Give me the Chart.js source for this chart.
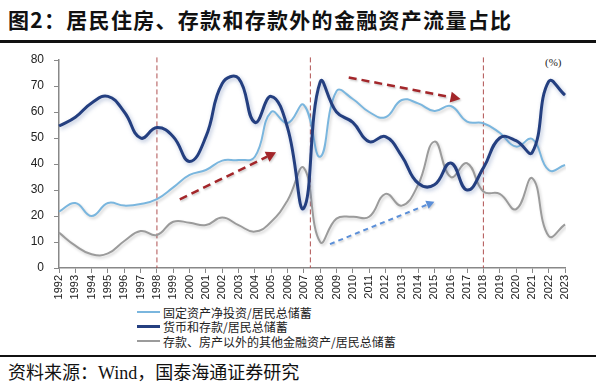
<!DOCTYPE html>
<html>
<head>
<meta charset="utf-8">
<script src="https://cdn.jsdelivr.net/npm/chart.js@4/dist/chart.umd.min.js"></script>
<style>
  html, body { margin: 0; padding: 0; background: #fff; }
  #wrap { position: relative; width: 596px; height: 388px; overflow: hidden; font-family: "Noto Sans CJK SC", sans-serif; }
  #title { position: absolute; left: 8px; top: 4px; font-size: 21px; font-weight: bold; color: #111; letter-spacing: 1.3px; white-space: nowrap; }
  .rule { position: absolute; left: 0; width: 596px; background: #111; }
  #legend { position: absolute; left: 137px; top: 305px; font-size: 12px; color: #222; }
  #legend div { display: flex; align-items: center; height: 14.5px; white-space: nowrap; }
  #legend span.sw { display: inline-block; width: 23px; margin-right: 3px; }
  #source { position: absolute; left: 8px; top: 358px; font-size: 18px; color: #111; font-family: "Liberation Serif", "Noto Sans CJK SC", serif; white-space: nowrap; }
  #unit { position: absolute; left: 545px; top: 56px; font-size: 11px; font-family: "Liberation Serif", serif; color: #222; }
  canvas { position: absolute; left: 0; top: 0; }
</style>
</head>
<body>
<div id="wrap">
  <div id="title">图2：居民住房、存款和存款外的金融资产流量占比</div>
  <div class="rule" style="top:40px;height:3px;"></div>
  <div id="unit">(%)</div>
  <div id="legend"></div>
  <div class="rule" style="top:355px;height:2px;"></div>
  <div id="source">资料来源：Wind，国泰海通证券研究</div>
  <canvas id="chart" width="596" height="388"></canvas>
</div>
<script>
// data
const years = [];
for (let y = 1992; y <= 2023; y++) years.push(String(y));

const fixedInvest = [21.7, 25, 20, 25, 24, 24.6, 26.5, 31, 35.8, 37.7, 41.3, 41.5, 42.8, 60, 55.7, 62.7,
  42.8, 68, 65, 60, 58, 64.6, 63.3, 60.4, 62.3, 56.3, 55.7, 52, 46.7, 49.6, 37.7, 39.6];
const deposits = [54.6, 58, 63.5, 66, 60, 50, 54, 50.5, 41, 50.5, 71, 73, 56, 66, 54, 23,
  71.5, 60, 56, 48.6, 50.5, 43, 32.6, 32, 40.4, 30, 38.5, 50, 49, 44.5, 71.7, 66.5];
const otherFin = [13.6, 8.6, 5.3, 5.6, 10.4, 14.2, 12.7, 17.8, 17.4, 16.5, 19.4, 16.5, 14, 17.8, 26, 38.5,
  10, 19, 19.7, 19.7, 28.5, 24, 32, 48.6, 35, 40.3, 29.4, 28.5, 22.6, 34.5, 12.3, 16.8];

const seriesNames = ['固定资产净投资/居民总储蓄', '货币和存款/居民总储蓄', '存款、房产以外的其他金融资产/居民总储蓄'];
const seriesColors = ['#7ab6de', '#243f80', '#9b9b9b'];

// annotations in data units (year, %)
const splitYears = [1998, 2007.4, 2018];
const arrows = [
  { from: [1999.4, 26.4], to: [2005.3, 44.5], color: '#a3262a', width: 2.5, dash: [8, 5] },
  { from: [2009.75, 73.3], to: [2016.6, 65], color: '#a3262a', width: 2.5, dash: [8, 5] },
  { from: [2008.6, 9.2], to: [2015, 25.5], color: '#5b8fd8', width: 2, dash: [5, 4] }
];

// legend
const legendEl = document.getElementById('legend');
seriesNames.forEach((n, i) => {
  const row = document.createElement('div');
  row.innerHTML = '<span class="sw" style="height:' + (i === 1 ? 3 : 2) + 'px;background:' + seriesColors[i] + '"></span>' + n;
  legendEl.appendChild(row);
});

const yearIdx = yr => yr - Number(years[0]);

const shadowPlugin = {
  id: 'shadow',
  beforeDatasetDraw(chart, args) {
    const ctx = chart.ctx;
    ctx.save();
    const dark = args.index === 1;
    ctx.shadowColor = dark ? 'rgba(70,100,160,0.4)' : 'rgba(0,0,0,0.18)';
    ctx.shadowBlur = dark ? 4 : 3;
    ctx.shadowOffsetX = 1.5;
    ctx.shadowOffsetY = 2;
  },
  afterDatasetDraw(chart) {
    chart.ctx.restore();
  }
};

const marksPlugin = {
  id: 'marks',
  beforeDatasetsDraw(chart) {
    const { ctx, scales: { x, y } } = chart;
    ctx.save();
    ctx.strokeStyle = '#b05050';
    ctx.lineWidth = 1;
    ctx.setLineDash([5, 3]);
    splitYears.forEach(yr => {
      const px = x.getPixelForValue(yearIdx(yr));
      ctx.beginPath();
      ctx.moveTo(px, y.getPixelForValue(81));
      ctx.lineTo(px, y.getPixelForValue(0));
      ctx.stroke();
    });
    ctx.restore();
  },
  afterDatasetsDraw(chart) {
    const { ctx, scales: { x, y } } = chart;
    arrows.forEach(a => {
      const x0 = x.getPixelForValue(yearIdx(a.from[0])), y0 = y.getPixelForValue(a.from[1]);
      const x1 = x.getPixelForValue(yearIdx(a.to[0])), y1 = y.getPixelForValue(a.to[1]);
      const ang = Math.atan2(y1 - y0, x1 - x0);
      const head = a.width * 4;
      ctx.save();
      ctx.shadowColor = 'rgba(0,0,0,0.2)';
      ctx.shadowBlur = 2;
      ctx.shadowOffsetX = 1;
      ctx.shadowOffsetY = 1.5;
      ctx.strokeStyle = a.color;
      ctx.fillStyle = a.color;
      ctx.lineWidth = a.width;
      ctx.setLineDash(a.dash);
      ctx.beginPath();
      ctx.moveTo(x0, y0);
      ctx.lineTo(x1 - Math.cos(ang) * head, y1 - Math.sin(ang) * head);
      ctx.stroke();
      ctx.setLineDash([]);
      ctx.beginPath();
      ctx.moveTo(x1, y1);
      ctx.lineTo(x1 - Math.cos(ang) * head - Math.sin(ang) * head * 0.55, y1 - Math.sin(ang) * head + Math.cos(ang) * head * 0.55);
      ctx.lineTo(x1 - Math.cos(ang) * head + Math.sin(ang) * head * 0.55, y1 - Math.sin(ang) * head - Math.cos(ang) * head * 0.55);
      ctx.closePath();
      ctx.fill();
      ctx.restore();
    });
  }
};

new Chart(document.getElementById('chart'), {
  type: 'line',
  data: {
    labels: years,
    datasets: [
      { label: seriesNames[0], data: fixedInvest, borderColor: seriesColors[0], borderWidth: 2, order: 1 },
      { label: seriesNames[1], data: deposits, borderColor: seriesColors[1], borderWidth: 3, order: 0 },
      { label: seriesNames[2], data: otherFin, borderColor: seriesColors[2], borderWidth: 2, order: 2 }
    ]
  },
  options: {
    responsive: false,
    animation: false,
    layout: { padding: { top: 60, left: 0, right: 31, bottom: 84 } },
    elements: {
      point: { radius: 0 },
      line: { tension: 0.45, fill: false }
    },
    plugins: {
      legend: { display: false },
      tooltip: { enabled: false }
    },
    scales: {
      x: {
        offset: false,
        afterFit: s => { s.height = 36; },
        grid: { drawOnChartArea: false, drawTicks: true, tickLength: 5, tickColor: '#888' },
        border: { color: '#888', width: 1.5 },
        ticks: {
          autoSkip: false, minRotation: 90, maxRotation: 90, padding: 2,
          color: '#222', font: { family: 'Liberation Sans', size: 11 }
        }
      },
      y: {
        min: 0, max: 80,
        afterFit: s => { s.width = 59; },
        grid: { drawOnChartArea: false, drawTicks: true, tickLength: 5, tickColor: '#888' },
        border: { color: '#888', width: 1.5 },
        ticks: {
          stepSize: 10, padding: 10,
          color: '#222', font: { family: 'Liberation Sans', size: 12 }
        }
      }
    }
  },
  plugins: [shadowPlugin, marksPlugin]
});
</script>
</body>
</html>
